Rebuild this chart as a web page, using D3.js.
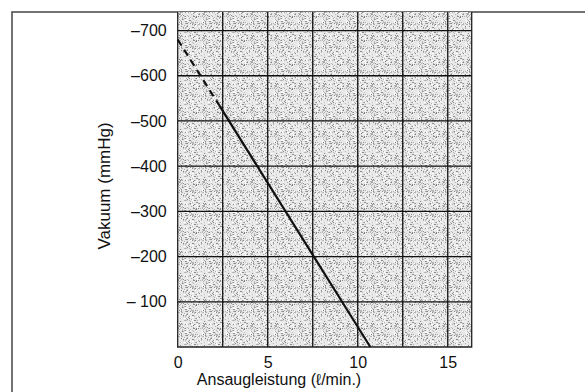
<!DOCTYPE html>
<html>
<head>
<meta charset="utf-8">
<script src="https://cdn.jsdelivr.net/npm/d3@7"></script>
<style>
  body { margin: 0; background: #fff; }
  text { font-family: "Liberation Sans", Arial, sans-serif; fill: #111; }
</style>
</head>
<body>
<div id="chart"></div>
<script>
//
// Vacuum vs. suction capacity chart
//

// tick values on both axes
var xTicks = [0, 5, 10, 15];
var yTicks = [100, 200, 300, 400, 500, 600, 700];
var yTickLabels = ["\u2013 100", "\u2013200", "\u2013300", "\u2013400", "\u2013500", "\u2013600", "\u2013700"];
var xGrid = [2.5, 5, 7.5, 10, 12.5, 15];
var yGrid = [100, 200, 300, 400, 500, 600, 700];

// the curve: dashed part and solid part (l/min, -mmHg)
var dashedX = [0, 2.3];
var dashedY = [680, 535];
var solidX = [2.3, 10.7];
var solidY = [535, 0];

var width = 585, height = 392;
var plot = {left: 177.7, right: 471.7, top: 12, bottom: 347};

var svg = d3.select("#chart").append("svg")
	.attr("width", width)
	.attr("height", height);

//
// stipple pattern for the plot background (noisy grey dots)
//
var defs = svg.append("defs");
var ps = 24;
var pat = defs.append("pattern")
	.attr("id", "stipple")
	.attr("patternUnits", "userSpaceOnUse")
	.attr("width", ps)
	.attr("height", ps);
pat.append("rect").attr("width", ps).attr("height", ps).attr("fill", "#e8e8e8");
var seed = 4242;
function rnd() {
	seed = (seed * 1103515245 + 12345) % 2147483648;
	return Math.floor(seed / 65536) % 32768 / 32768;
}
for (var i = 0; i < 170; i++) {
	pat.append("rect")
		.attr("x", Math.floor(rnd() * ps))
		.attr("y", Math.floor(rnd() * ps))
		.attr("width", 1).attr("height", 1)
		.attr("fill", rnd() < 0.35 ? "#8a8a8a" : "#b4b4b4");
}
for (var j = 0; j < 60; j++) {
	pat.append("rect")
		.attr("x", Math.floor(rnd() * ps))
		.attr("y", Math.floor(rnd() * ps))
		.attr("width", 1).attr("height", 1)
		.attr("fill", "#ffffff");
}

//
// scales
//
var x = d3.scaleLinear().domain([0, 16.33]).range([plot.left, plot.right]);
var y = d3.scaleLinear().domain([0, 741]).range([plot.bottom, plot.top]);

//
// outer frame (top and left edge only)
//
svg.append("path")
	.attr("d", "M12,392 L12,12 L585,12")
	.attr("fill", "none")
	.style("stroke", "#444")
	.style("stroke-width", 1.5);

//
// plot area
//
svg.append("rect")
	.attr("x", plot.left)
	.attr("y", plot.top)
	.attr("width", plot.right - plot.left)
	.attr("height", plot.bottom - plot.top)
	.attr("fill", "url(#stipple)");

// grid
svg.selectAll(".vgrid")
	.data(xGrid)
	.enter().append("line")
	.attr("x1", function(d) { return x(d); })
	.attr("x2", function(d) { return x(d); })
	.attr("y1", plot.top)
	.attr("y2", plot.bottom)
	.style("stroke", "#111")
	.style("stroke-width", 1.3);

svg.selectAll(".hgrid")
	.data(yGrid)
	.enter().append("line")
	.attr("x1", plot.left)
	.attr("x2", plot.right)
	.attr("y1", function(d) { return y(d); })
	.attr("y2", function(d) { return y(d); })
	.style("stroke", "#111")
	.style("stroke-width", 1.3);

// border of the plot
svg.append("path")
	.attr("d", "M" + plot.left + "," + plot.top + " L" + plot.left + "," + plot.bottom +
		" L" + plot.right + "," + plot.bottom + " L" + plot.right + "," + plot.top)
	.attr("fill", "none")
	.style("stroke", "#222")
	.style("stroke-width", 1.3);

//
// axes (labels only)
//
var yAxis = svg.append("g")
	.attr("transform", "translate(" + plot.left + ",0)")
	.call(d3.axisLeft(y).tickValues(yTicks).tickSize(0).tickPadding(11)
		.tickFormat(function(d, i) { return yTickLabels[i]; }));
yAxis.select(".domain").remove();
yAxis.selectAll("text")
	.style("font-family", "Liberation Sans, Arial, sans-serif")
	.style("font-size", "16px")
	.attr("fill", "#111");

var xAxis = svg.append("g")
	.attr("transform", "translate(0," + plot.bottom + ")")
	.call(d3.axisBottom(x).tickValues(xTicks).tickSize(0).tickPadding(10)
		.tickFormat(d3.format("d")));
xAxis.select(".domain").remove();
xAxis.selectAll("text")
	.style("font-family", "Liberation Sans, Arial, sans-serif")
	.style("font-size", "16px")
	.attr("fill", "#111");

// axis titles
svg.append("text")
	.attr("x", 279)
	.attr("y", 385)
	.attr("text-anchor", "middle")
	.style("font-size", "16px")
	.text("Ansaugleistung (\u2113/min.)");

svg.append("text")
	.attr("transform", "translate(110,186) rotate(-90)")
	.attr("text-anchor", "middle")
	.style("font-size", "17px")
	.text("Vakuum (mmHg)");

//
// the line
//
var line = d3.line()
	.x(function(d) { return x(d[0]); })
	.y(function(d) { return y(d[1]); });

svg.append("path")
	.attr("d", line(d3.zip(dashedX, dashedY)))
	.attr("fill", "none")
	.style("stroke", "#111")
	.style("stroke-width", 2.2)
	.style("stroke-dasharray", "7,5");

svg.append("path")
	.attr("d", line(d3.zip(solidX, solidY)))
	.attr("fill", "none")
	.style("stroke", "#111")
	.style("stroke-width", 2.2);
</script>
</body>
</html>
